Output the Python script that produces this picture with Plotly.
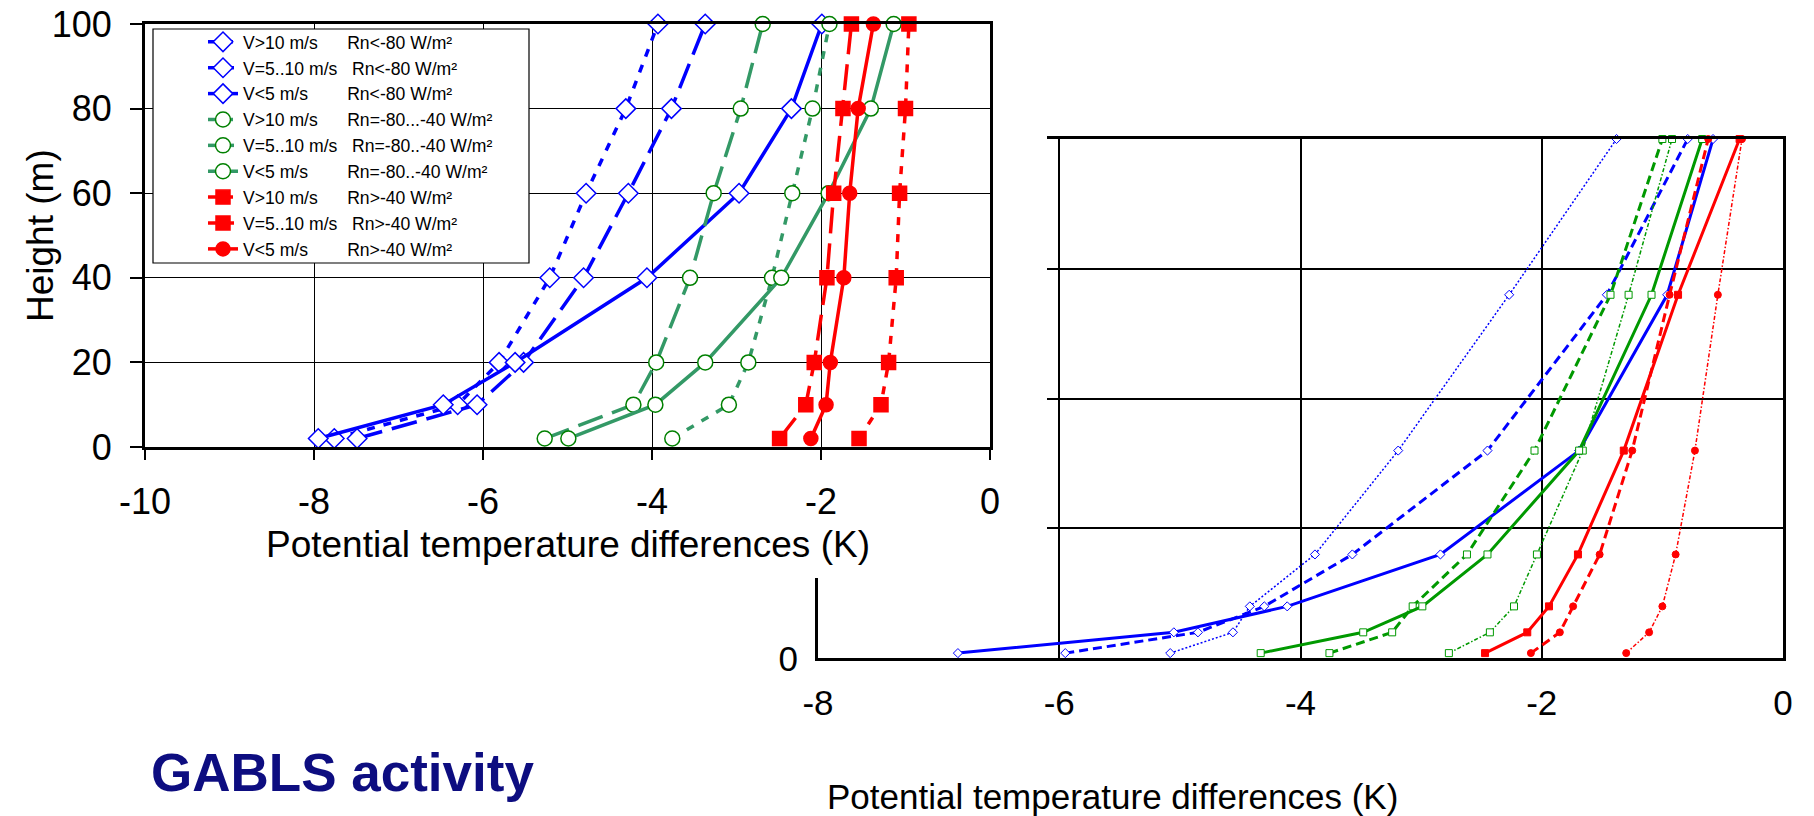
import plotly.graph_objects as go

W, H = 1814, 816

# ---------------- data ----------------
H_LEFT = [2, 10, 20, 40, 60, 80, 100]
H_RIGHT = [2, 10, 20, 40, 80, 140, 200]

# left chart (observations) - potential temperature differences (K)
L_BLUE_V10 = [-7.76, -6.30, -5.81, -5.21, -4.78, -4.31, -3.93]
L_BLUE_V5_10 = [-7.49, -6.07, -5.52, -4.81, -4.28, -3.77, -3.37]
L_BLUE_V5 = [-7.95, -6.47, -5.62, -4.06, -2.97, -2.35, -1.99]
L_GREEN_V10 = [-3.76, -3.09, -2.86, -2.58, -2.34, -2.10, -1.90]
L_GREEN_V5_10 = [-5.27, -4.22, -3.95, -3.55, -3.27, -2.95, -2.69]
L_GREEN_V5 = [-4.99, -3.96, -3.37, -2.47, -1.91, -1.41, -1.14]
L_RED_V10 = [-1.55, -1.29, -1.20, -1.11, -1.07, -1.00, -0.96]
L_RED_V5_10 = [-2.49, -2.18, -2.08, -1.93, -1.85, -1.74, -1.64]
L_RED_V5 = [-2.12, -1.94, -1.89, -1.73, -1.66, -1.56, -1.38]

# right chart (model) - potential temperature differences (K)
R_BLUE_DOT = [-5.08, -4.56, -4.42, -3.88, -3.19, -2.27, -1.38]
R_BLUE_DASH = [-5.95, -4.85, -4.30, -3.57, -2.45, -1.46, -0.79]
R_BLUE_SOLID = [-6.84, -5.05, -4.11, -2.84, -1.69, -0.96, -0.58]
R_GREEN_DOT = [-2.77, -2.43, -2.23, -2.04, -1.66, -1.28, -0.92]
R_GREEN_DASH = [-3.76, -3.24, -3.07, -2.62, -2.06, -1.43, -1.00]
R_GREEN_SOLID = [-4.33, -3.48, -2.99, -2.45, -1.69, -1.09, -0.67]
R_RED_DOT = [-1.30, -1.11, -1.00, -0.89, -0.73, -0.54, -0.34]
R_RED_DASH = [-2.09, -1.85, -1.74, -1.52, -1.25, -0.94, -0.62]
R_RED_SOLID = [-2.47, -2.12, -1.94, -1.70, -1.32, -0.87, -0.36]

L_XTICKS = [-10, -8, -6, -4, -2, 0]
L_XLABELS = ["-10", "-8", "-6", "-4", "-2", "0"]
L_YTICKS = [0, 20, 40, 60, 80, 100]
L_YLABELS = ["0", "20", "40", "60", "80", "100"]
R_XTICKS = [-8, -6, -4, -2, 0]
R_XLABELS = ["-8", "-6", "-4", "-2", "0"]
R_YTICKS = [0, 50, 100, 150, 200]
R_YLABELS = ["0", "", "", "", ""]   # only "0" is visible in the original

NB = "\u00a0"
LEG_V = ["V&gt;10 m/s" + NB * 6, "V=5..10 m/s" + NB * 3, "V&lt;5 m/s" + NB * 8]
LEG_RN = ["Rn&lt;-80 W/m²", "Rn=-80...-40 W/m²", "Rn=-80..-40 W/m²", "Rn&gt;-40 W/m²"]

FONT = "Liberation Sans, Arial, sans-serif"
BLUE = "#0000FF"
GREEN_L = "#339966"
GREEN_LM = "#008000"
GREEN_R = "#009900"
RED = "#FF0000"


def px(x):
    return x / W


def py(y):
    return 1 - y / H


fig = go.Figure()

# ---------- right chart (subplot xy) ----------
def rtrace(xs, color, dash, width, symbol, fill):
    return go.Scatter(
        x=xs, y=H_RIGHT, xaxis="x", yaxis="y", mode="lines+markers",
        showlegend=False, cliponaxis=False, hoverinfo="skip",
        line=dict(color=color, width=width, dash=dash),
        marker=dict(symbol=symbol, size=7, color=fill, line=dict(color=color, width=1)),
    )

fig.add_trace(rtrace(R_BLUE_DOT, BLUE, "2px,2px", 1.5, "diamond", "white"))
fig.add_trace(rtrace(R_BLUE_DASH, BLUE, "9px,5px", 3, "diamond", "white"))
fig.add_trace(rtrace(R_BLUE_SOLID, BLUE, "solid", 3, "diamond", "white"))
fig.add_trace(rtrace(R_GREEN_DOT, GREEN_R, "4px,2px,1.5px,2px", 1.5, "square", "white"))
fig.add_trace(rtrace(R_GREEN_DASH, GREEN_R, "9px,5px", 3, "square", "white"))
fig.add_trace(rtrace(R_GREEN_SOLID, GREEN_R, "solid", 3, "square", "white"))
fig.add_trace(rtrace(R_RED_DOT, RED, "4px,2px,1.5px,2px", 1.5, "circle", RED))
fig.add_trace(rtrace(R_RED_DASH, RED, "9px,5px", 3, "circle", RED))
fig.add_trace(rtrace(R_RED_SOLID, RED, "solid", 3, "square", RED))

# ---------- cover (subplot x2y2): the left picture hides part of the right one ----------
fig.add_trace(go.Scatter(x=[None], y=[None], xaxis="x2", yaxis="y2",
                         showlegend=False, hoverinfo="skip"))

# ---------- left chart (subplot x3y3) ----------
DOT_L = "8px,9px"
DASH_L = "26px,10px"


def ltrace(name, xs, color, dash, symbol, mline, fill, size):
    return go.Scatter(
        x=xs, y=H_LEFT, xaxis="x3", yaxis="y3", mode="lines+markers", name=name,
        cliponaxis=False, hoverinfo="skip",
        line=dict(color=color, width=3.5, dash=dash),
        marker=dict(symbol=symbol, size=size, color=fill, line=dict(color=mline, width=1.5)),
    )

fig.add_trace(ltrace(LEG_V[0] + LEG_RN[0], L_BLUE_V10, BLUE, DOT_L, "diamond", BLUE, "white", 15))
fig.add_trace(ltrace(LEG_V[1] + LEG_RN[0], L_BLUE_V5_10, BLUE, DASH_L, "diamond", BLUE, "white", 15))
fig.add_trace(ltrace(LEG_V[2] + LEG_RN[0], L_BLUE_V5, BLUE, "solid", "diamond", BLUE, "white", 15))
fig.add_trace(ltrace(LEG_V[0] + LEG_RN[1], L_GREEN_V10, GREEN_L, DOT_L, "circle", GREEN_LM, "white", 15))
fig.add_trace(ltrace(LEG_V[1] + LEG_RN[2], L_GREEN_V5_10, GREEN_L, DASH_L, "circle", GREEN_LM, "white", 15))
fig.add_trace(ltrace(LEG_V[2] + LEG_RN[2], L_GREEN_V5, GREEN_L, "solid", "circle", GREEN_LM, "white", 15))
fig.add_trace(ltrace(LEG_V[0] + LEG_RN[3], L_RED_V10, RED, DOT_L, "square", RED, RED, 14))
fig.add_trace(ltrace(LEG_V[1] + LEG_RN[3], L_RED_V5_10, RED, DASH_L, "square", RED, RED, 14))
fig.add_trace(ltrace(LEG_V[2] + LEG_RN[3], L_RED_V5, RED, "solid", "circle", RED, RED, 14))

axis_common = dict(showline=True, linecolor="black", mirror=True, zeroline=False,
                   gridcolor="black", fixedrange=True)

fig.update_layout(
    width=W, height=H,
    margin=dict(l=0, r=0, t=0, b=0, autoexpand=False),
    paper_bgcolor="white", plot_bgcolor="white",
    font=dict(family=FONT, color="black"),
    # right chart
    xaxis=dict(domain=[px(818), px(1783)], range=[-8, 0], tickvals=R_XTICKS,
               ticktext=R_XLABELS, linewidth=3, gridwidth=1.5, ticks="",
               tickfont=dict(size=35), ticklabelstandoff=12, anchor="y", **axis_common),
    yaxis=dict(domain=[py(658.3), py(139)], range=[0, 200], tickvals=R_YTICKS,
               ticktext=R_YLABELS, linewidth=3, gridwidth=1.5, ticks="",
               tickfont=dict(size=35), ticklabelstandoff=10, anchor="x", **axis_common),
    # cover
    xaxis2=dict(domain=[0, px(1047)], range=[0, 1], visible=True, showgrid=False,
                zeroline=False, showline=False, showticklabels=False, ticks="",
                anchor="y2", fixedrange=True),
    yaxis2=dict(domain=[py(578), 1], range=[0, 1], visible=True, showgrid=False,
                zeroline=False, showline=False, showticklabels=False, ticks="",
                anchor="x2", fixedrange=True),
    # left chart
    xaxis3=dict(domain=[px(145), px(990)], range=[-10, 0], tickvals=L_XTICKS,
                ticktext=L_XLABELS, linewidth=3, gridwidth=1, ticks="outside",
                ticklen=10, tickwidth=1.5, tickcolor="black", tickfont=dict(size=36),
                ticklabelstandoff=11, anchor="y3", **axis_common),
    yaxis3=dict(domain=[py(447), py(24)], range=[0, 100], tickvals=L_YTICKS,
                ticktext=L_YLABELS, linewidth=3, gridwidth=1, ticks="outside",
                ticklen=12, tickwidth=1.5, tickcolor="black", tickfont=dict(size=36),
                ticklabelstandoff=11, anchor="x3", **axis_common),
    legend=dict(x=px(203), y=py(23.9), xanchor="left", yanchor="top",
                bgcolor="rgba(0,0,0,0)", borderwidth=0,
                font=dict(size=17.6, family=FONT, color="black"),
                itemwidth=30, traceorder="normal"),
    showlegend=True,
)

# legend frame
fig.add_shape(type="rect", xref="paper", yref="paper",
              x0=px(153), x1=px(529), y0=py(263), y1=py(29),
              line=dict(color="black", width=1.2), fillcolor="white", layer="above")

annotations = [
    dict(text="Height (m)", x=px(40), y=py(236), textangle=-90, font=dict(size=37)),
    dict(text="Potential temperature differences (K)", x=px(567.5), y=py(544),
         font=dict(size=37)),
    dict(text="Potential temperature differences (K)", x=px(825), y=py(796),
         xanchor="left", font=dict(size=35)),
    dict(text="<b>GABLS activity</b>", x=px(149), y=py(772), xanchor="left",
         font=dict(size=53, color="#0D0D80")),
]
for a in annotations:
    a.setdefault("xanchor", "center")
    a.setdefault("yanchor", "middle")
    fig.add_annotation(xref="paper", yref="paper", showarrow=False, **a)

fig.write_html("out.html")
